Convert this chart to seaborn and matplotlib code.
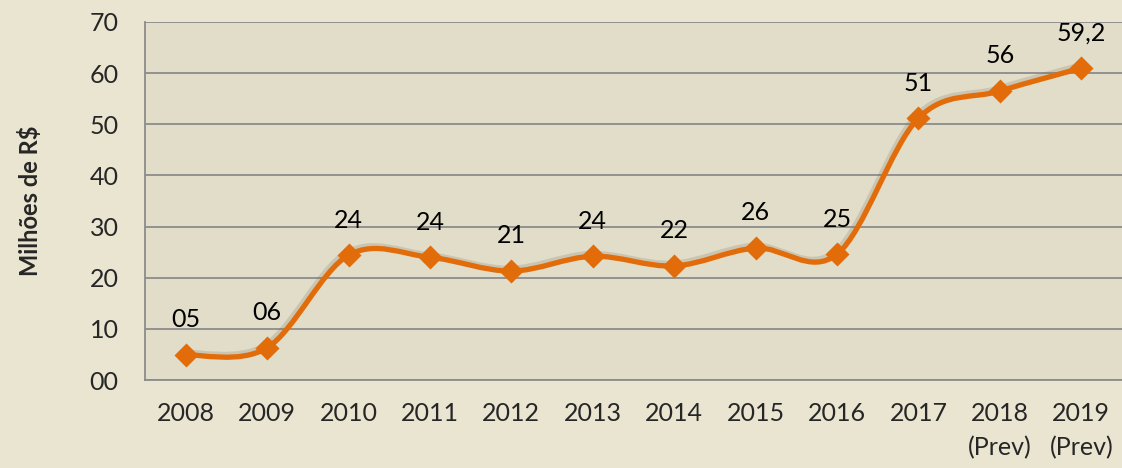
import numpy as np
import pandas as pd
import seaborn as sns
import matplotlib.pyplot as plt
from matplotlib.path import Path
from matplotlib.patches import PathPatch
import matplotlib.patheffects as pe

years = ["2008", "2009", "2010", "2011", "2012", "2013", "2014", "2015", "2016", "2017",
         "2018\n(Prev)", "2019\n(Prev)"]
values = [4.9, 6.3, 24.4, 24.0, 21.3, 24.2, 22.3, 25.8, 24.6, 51.2, 56.5, 61.0]
labels = ["05", "06", "24", "24", "21", "24", "22", "26", "25", "51", "56", "59,2"]

orange = "#E36C0A"
df = pd.DataFrame({"pos": range(len(years)), "valor": values})

sns.set_style("white")
plt.rcParams["font.family"] = ["Lato", "DejaVu Sans"]

fig = plt.figure(figsize=(11.22, 4.68), dpi=100, facecolor="#EAE5D1")
ax = fig.add_axes([0.1292, 0.188, 0.8708, 0.765])
ax.set_facecolor("#E2DDC8")

# smooth line (Excel style) built from the data points with bezier segments
x = df["pos"].to_numpy(dtype=float)
y = df["valor"].to_numpy(dtype=float)
verts = [(x[0], y[0])]
codes = [Path.MOVETO]
for i in range(len(x) - 1):
    x0, y0 = (x[i - 1], y[i - 1]) if i > 0 else (x[i], y[i])
    x3, y3 = (x[i + 2], y[i + 2]) if i + 2 < len(x) else (x[i + 1], y[i + 1])
    c1 = (x[i] + (x[i + 1] - x0) / 6, y[i] + (y[i + 1] - y0) / 6)
    c2 = (x[i + 1] - (x3 - x[i]) / 6, y[i + 1] - (y3 - y[i]) / 6)
    verts += [c1, c2, (x[i + 1], y[i + 1])]
    codes += [Path.CURVE4] * 3
curve = PathPatch(Path(verts, codes), facecolor="none", edgecolor=orange, lw=3.8,
                  capstyle="round", joinstyle="round", zorder=3,
                  path_effects=[pe.SimpleLineShadow(offset=(-1.5, 2), shadow_color="#6E6858", alpha=0.2),
                                pe.Normal()])
ax.add_patch(curve)

sns.scatterplot(data=df, x="pos", y="valor", marker="D", s=150, color=orange,
                edgecolor=orange, linewidth=0, zorder=4, ax=ax, legend=False)

for xi, yi, lab in zip(x, y, labels):
    ax.annotate(lab, (xi, yi), xytext=(0, 17), textcoords="offset points",
                ha="center", va="bottom", fontsize=18, color="black")

ax.set_xlim(-0.5, len(years) - 0.5)
ax.set_ylim(0, 70)
ax.set_yticks(range(0, 71, 10))
ax.set_yticklabels([f"{v:02d}" for v in range(0, 71, 10)], fontsize=18)
ax.set_xticks(range(len(years)))
ax.set_xticklabels(years, fontsize=18, linespacing=1.55)
ax.set_xticks(np.arange(-0.5, len(years), 1), minor=True)
ax.tick_params(axis="x", which="major", length=0, pad=16)
ax.tick_params(axis="x", which="minor", length=7, color="#8C8C8C", width=1.3, direction="out")
ax.tick_params(axis="y", length=7, color="#8C8C8C", width=1.3, direction="out", pad=12)

ax.grid(axis="y", color="#8C8C8C", lw=1.3)
ax.set_axisbelow(True)
for s in ["top", "right"]:
    ax.spines[s].set_visible(False)
for s in ["left", "bottom"]:
    ax.spines[s].set_color("#8C8C8C")
    ax.spines[s].set_linewidth(1.3)

ax.set_xlabel("")
ax.set_ylabel("Milhões de R$", fontsize=17, fontweight="bold", labelpad=34)

plt.savefig("out.png", dpi=100, facecolor=fig.get_facecolor())
